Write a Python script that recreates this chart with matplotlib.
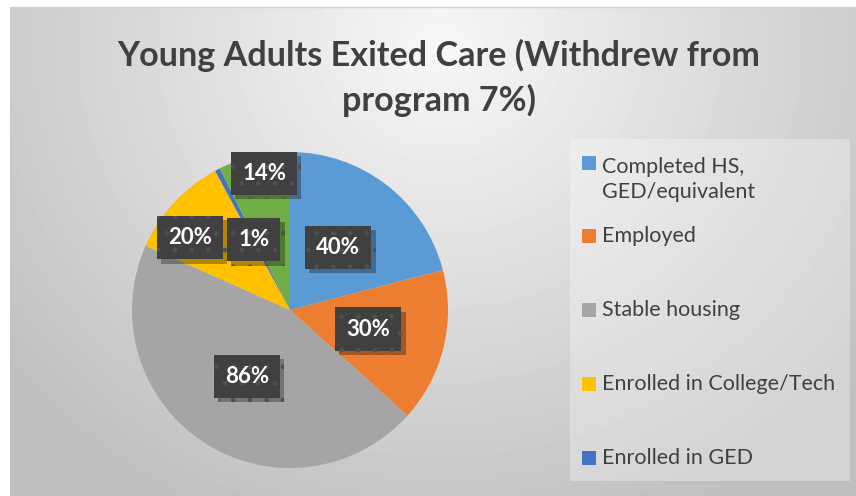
import numpy as np
import matplotlib.pyplot as plt
from matplotlib.patches import Rectangle
import matplotlib.patheffects as pe

# ---- data ----
labels = ["Completed HS,\nGED/equivalent", "Employed", "Stable housing",
          "Enrolled in College/Tech", "Enrolled in GED", "Withdrew from program"]
values = [40, 30, 86, 20, 1, 14]
colors = ["#5B9BD5", "#ED7D31", "#A5A5A5", "#FFC000", "#4472C4", "#70AD47"]
n_legend = 5  # legend in the original is cut off after 5 entries
title = "Young Adults Exited Care (Withdrew from\nprogram 7%)"

# label placement: distance from centre (fraction of radius) and angle nudge (deg)
label_r = [0.50, 0.51, 0.50, 0.78, 0.50, 0.88]
label_dang = [0, 0, 0, 7, 0, -2.5]

W, H = 856, 496
fig = plt.figure(figsize=(W / 100, H / 100), dpi=100)
fig.patch.set_facecolor("white")

# ---- gradient background of the chart area ----
bg = fig.add_axes([10 / W, 0, 1 - 10 / W, 1 - 7 / H])
yy, xx = np.mgrid[0:489, 0:846]
d = np.sqrt(((xx - 430) / 560.0) ** 2 + ((yy - 40) / 520.0) ** 2)
img = 0.97 - 0.22 * np.clip(d, 0, 1)
bg.imshow(img, cmap="gray", vmin=0, vmax=1, aspect="auto", interpolation="bilinear")
bg.set_axis_off()
fig.add_artist(plt.Line2D([10 / W, 1], [1 - 7 / H, 1 - 7 / H], color="#d0d0d0", lw=1))

# ---- title ----
fig.text(439 / W, 1 - 78 / H, title, ha="center", va="center", fontsize=24.6,
         fontweight="bold", color="#404040", family="Lato", linespacing=1.42)

# ---- pie ----
cx, cy, R = 290, 310, 158
ax = fig.add_axes([(cx - R) / W, (H - cy - R) / H, 2 * R / W, 2 * R / H])
wedges, _ = ax.pie(values, colors=colors, startangle=90, counterclock=False,
                   wedgeprops=dict(linewidth=0))
ax.set_xlim(-1, 1)
ax.set_ylim(-1, 1)
ax.set_aspect("auto")

for w, v, r, da in zip(wedges, values, label_r, label_dang):
    ang = np.deg2rad((w.theta1 + w.theta2) / 2 + da)
    t = ax.text(r * np.cos(ang), r * np.sin(ang), f"{v}%",
                ha="center", va="center", fontsize=16, fontweight="bold",
                color="white", family="Lato",
                bbox=dict(boxstyle="square,pad=0.5", facecolor="#404040",
                          edgecolor="#505050", linewidth=0, hatch="."))
    t.get_bbox_patch().set_path_effects([
        pe.SimplePatchShadow(offset=(3, -3), shadow_rgbFace="black", alpha=0.3),
        pe.Normal()])

# ---- legend (drawn by hand to match layout) ----
fig.add_artist(Rectangle((570 / W, 1 - 481 / H), 280 / W, 342 / H,
                         transform=fig.transFigure, facecolor="white",
                         alpha=0.3, linewidth=0))
leg_y = [163, 236, 310, 384, 458]
line_h = 29
for i in range(n_legend):
    y = leg_y[i]
    fig.add_artist(Rectangle((582 / W, 1 - (y + 7) / H), 14 / W, 14 / H,
                             transform=fig.transFigure, facecolor=colors[i],
                             linewidth=0))
    # baseline of the last line, since va="baseline" uses it for multi-line text
    extra = labels[i].count("\n") * line_h
    fig.text(602 / W, 1 - (y + 6 + extra) / H, labels[i], ha="left", va="baseline",
             fontsize=15.5, color="#404040", family="Lato", linespacing=1.32)

fig.savefig("out.png", dpi=100)
